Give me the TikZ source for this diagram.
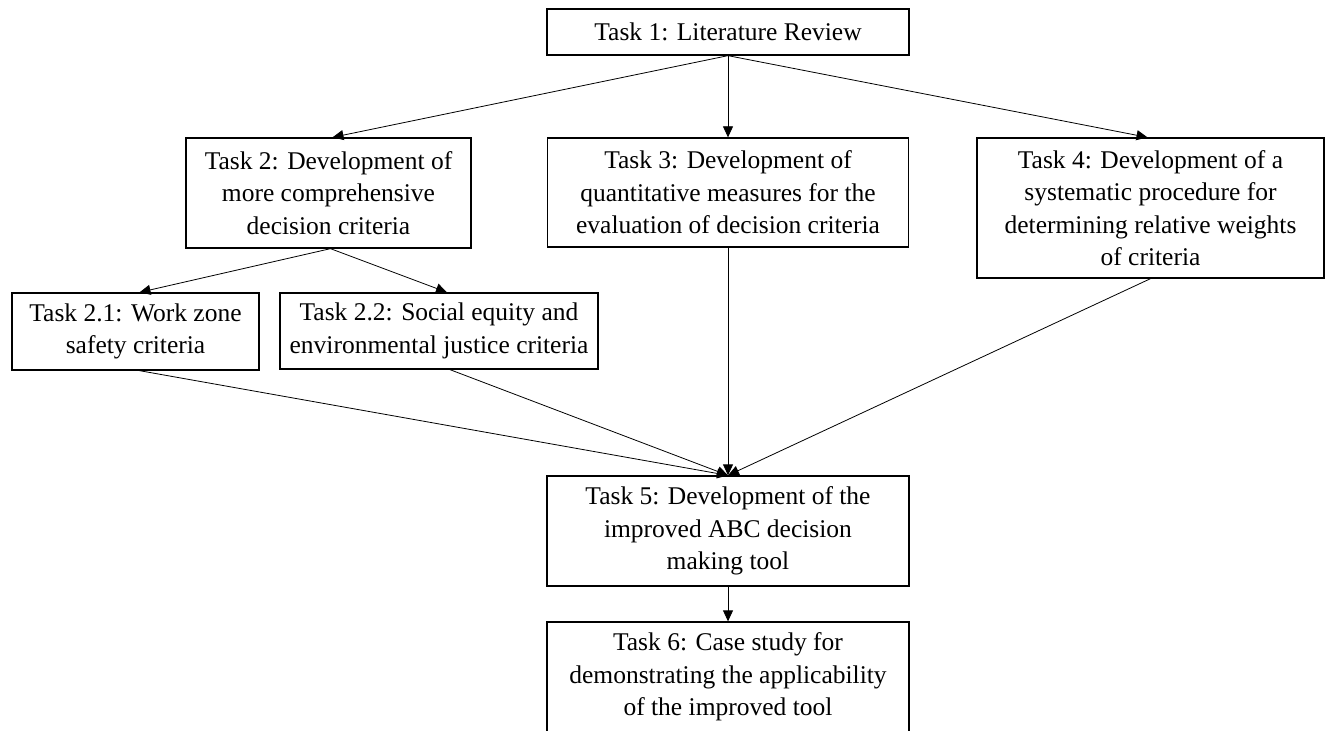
\documentclass[tikz,border=0pt]{standalone}
\usepackage{fontspec}
\setmainfont{Liberation Serif}
\usetikzlibrary{arrows.meta}
\begin{document}
\begin{tikzpicture}[x=1bp,y=-1bp,
  task/.style={draw, line width=1.3bp, rectangle, inner sep=0pt, align=center,
    font=\fontsize{25.5bp}{32.5bp}\selectfont},
  flow/.style={line width=0.8bp, -{Triangle[length=11bp,width=10bp]}}]
\useasboundingbox (0,0) rectangle (1327,730);
\clip (0,0) rectangle (1327,730);

\node[task, minimum width=362bp, minimum height=46bp] (t1) at (728,32)
  {Task 1: Literature Review};
\node[task, minimum width=285bp, minimum height=110bp] (t2) at (328.5,193)
  {Task 2: Development of\\more comprehensive\\decision criteria};
\node[task, minimum width=361bp, minimum height=109bp] (t3) at (728,192.5)
  {Task 3: Development of\\quantitative measures for the\\evaluation of decision criteria};
\node[task, minimum width=347bp, minimum height=140bp] (t4) at (1150.5,208)
  {Task 4: Development of a\\systematic procedure for\\determining relative weights\\of criteria};
\node[task, minimum width=247bp, minimum height=77bp] (t21) at (135.5,331.5)
  {Task 2.1: Work zone\\safety criteria};
\node[task, minimum width=318bp, minimum height=76bp] (t22) at (439,331)
  {Task 2.2: Social equity and\\environmental justice criteria};
\node[task, minimum width=362bp, minimum height=110bp] (t5) at (728,531)
  {Task 5: Development of the\\improved ABC decision\\making tool};
\node[task, minimum width=362bp, minimum height=110bp] (t6) at (728,677)
  {Task 6: Case study for\\demonstrating the applicability\\of the improved tool};

% task 1 feeds tasks 2, 3 and 4
\draw[flow] (t1.south) -- ([xshift=4bp]t2.north);
\draw[flow] (t1.south) -- (t3.north);
\draw[flow] (t1.south) -- ([xshift=-3bp]t4.north);
% task 2 splits into its subtasks
\draw[flow] ([xshift=2bp]t2.south) -- ([xshift=4bp]t21.north);
\draw[flow] ([xshift=2bp]t2.south) -- ([xshift=8bp]t22.north);
% everything converges on task 5
\draw[flow] ([xshift=4bp]t21.south) -- (t5.north);
\draw[flow] ([xshift=11bp]t22.south) -- (t5.north);
\draw[flow] (t3.south) -- (t5.north);
\draw[flow] (t4.south) -- (t5.north);
\draw[flow] (t5.south) -- (t6.north);
\end{tikzpicture}
\end{document}
